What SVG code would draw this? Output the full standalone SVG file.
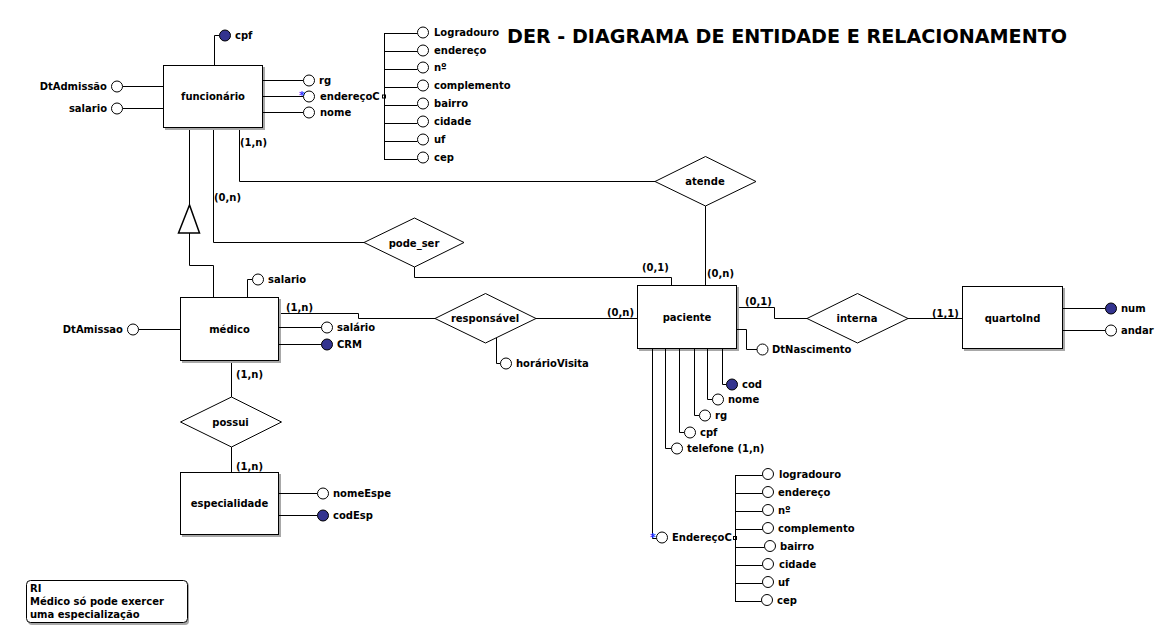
<svg xmlns="http://www.w3.org/2000/svg" width="1164" height="632" viewBox="0 0 1164 632">
<style>
text{font-family:"DejaVu Sans","Verdana",sans-serif;font-weight:bold;font-size:10px;fill:#000}
.title{font-size:20px}
.ctr{text-anchor:middle}
.end{text-anchor:end}
.ent{fill:#fff;stroke:#000;stroke-width:1}
.sh{fill:#a8a8a8;stroke:none}
.rel{fill:#fff;stroke:#000;stroke-width:1}
.ln{fill:none;stroke:#000;stroke-width:1}
.at{fill:#fff;stroke:#000;stroke-width:1}
.pk{fill:#33338f;stroke:#000;stroke-width:1}
.star{fill:#3030ff;font-size:11px}
.sq{fill:#fff;stroke:#000;stroke-width:1}
</style>
<rect width="1164" height="632" fill="#fff"/>
<text class="title" x="507" y="43" textLength="560" lengthAdjust="spacingAndGlyphs">DER - DIAGRAMA DE ENTIDADE E RELACIONAMENTO</text>

<g id="connectors">
<path class="ln" d="M239.5,128 V181.5 H655"/>
<path class="ln" d="M213.5,128 V242.5 H364"/>
<path class="ln" d="M414.5,267 V277.5 H671.5 V285"/>
<path class="ln" d="M705.5,206 V285"/>
<path class="ln" d="M189.5,128 V205"/>
<path class="ln" d="M189.5,233 V265.5 H213.5 V297"/>
<path class="ln" d="M279,313.5 H358.5 V318.5 H435"/>
<path class="ln" d="M536,318.5 H637"/>
<path class="ln" d="M737,307.5 H774.5 V318.5 H807"/>
<path class="ln" d="M908,318.5 H962"/>
<path class="ln" d="M231.5,361 V397"/>
<path class="ln" d="M231.5,447 V472"/>
<text x="240" y="146">(1,n)</text>
<text x="214" y="201">(0,n)</text>
<text x="642" y="271">(0,1)</text>
<text x="707" y="277">(0,n)</text>
<text x="286" y="311">(1,n)</text>
<text x="607" y="316">(0,n)</text>
<text x="745" y="305">(0,1)</text>
<text x="932" y="317">(1,1)</text>
<text x="236" y="378">(1,n)</text>
<text x="236" y="470">(1,n)</text>
</g>

<g id="specialization">
<polygon points="189.5,205 178.5,233 199.5,233" fill="#fff" stroke="#000" stroke-width="1.5"/>
</g>

<g id="funcionario">
<rect class="sh" x="165" y="67" width="100" height="63"/>
<rect class="ent" x="163.5" y="65.5" width="99" height="62"/>
<text class="ctr" x="213" y="100">funcionário</text>
<path class="ln" d="M214.5,65 V35.5 H219.5"/>
<circle class="pk" cx="225" cy="35.5" r="5.5"/>
<text x="235" y="39">cpf</text>
<path class="ln" d="M163,86.5 H122.5"/>
<circle class="at" cx="117" cy="86.5" r="5.5"/>
<text class="end" x="107" y="90">DtAdmissão</text>
<path class="ln" d="M163,108.5 H122.5"/>
<circle class="at" cx="117" cy="108.5" r="5.5"/>
<text class="end" x="107" y="112">salario</text>
<path class="ln" d="M263,80.5 H303.5"/>
<circle class="at" cx="309" cy="80.5" r="5.5"/>
<text x="319" y="84">rg</text>
<path class="ln" d="M263,96.5 H303.5"/>
<circle class="at" cx="309" cy="96.5" r="5.5"/>
<text class="star" x="299" y="99">*</text>
<text x="320" y="100">endereçoC</text>
<rect class="sq" x="382.5" y="95" width="3" height="3"/>
<path class="ln" d="M263,112.5 H303.5"/>
<circle class="at" cx="309" cy="112.5" r="5.5"/>
<text x="320" y="116">nome</text>
<path class="ln" d="M384.5,33 V160 M384.5,33.5 H417.5 M384.5,51.5 H417.5 M384.5,69.5 H417.5 M384.5,87.5 H417.5 M384.5,105.5 H417.5 M384.5,123.5 H417.5 M384.5,141.5 H417.5 M384.5,159.5 H417.5"/>
<circle class="at" cx="423" cy="32.5" r="5.5"/>
<circle class="at" cx="423" cy="50.5" r="5.5"/>
<circle class="at" cx="423" cy="67.5" r="5.5"/>
<circle class="at" cx="423" cy="85.5" r="5.5"/>
<circle class="at" cx="423" cy="103.5" r="5.5"/>
<circle class="at" cx="423" cy="121.5" r="5.5"/>
<circle class="at" cx="423" cy="139.5" r="5.5"/>
<circle class="at" cx="423" cy="157.5" r="5.5"/>
<text x="434" y="36">Logradouro</text>
<text x="434" y="54">endereço</text>
<text x="434" y="71">nº</text>
<text x="434" y="89">complemento</text>
<text x="434" y="107">bairro</text>
<text x="434" y="125">cidade</text>
<text x="434" y="143">uf</text>
<text x="434" y="161">cep</text>
</g>

<g id="atende">
<polygon class="rel" points="655,181.5 705.5,156.5 756,181.5 705.5,206"/>
<text class="ctr" x="705" y="185">atende</text>
</g>

<g id="pode_ser">
<polygon class="rel" points="364,242.5 414.5,218 464,242.5 414.5,267"/>
<text class="ctr" x="414" y="247">pode_ser</text>
</g>

<g id="medico">
<rect class="sh" x="182" y="299" width="99" height="64"/>
<rect class="ent" x="180.5" y="297.5" width="98" height="63"/>
<text class="ctr" x="229.5" y="333">médico</text>
<path class="ln" d="M247.5,297 V279.5 H252.5"/>
<circle class="at" cx="258" cy="279.5" r="5.5"/>
<text x="268" y="283">salario</text>
<path class="ln" d="M279,327.5 H321.5"/>
<circle class="at" cx="327" cy="327.5" r="5.5"/>
<text x="337" y="331">salário</text>
<path class="ln" d="M279,344.5 H321.5"/>
<circle class="pk" cx="327" cy="344.5" r="5.5"/>
<text x="337" y="348">CRM</text>
<path class="ln" d="M180,329.5 H138.5"/>
<circle class="at" cx="133" cy="329.5" r="5.5"/>
<text class="end" x="123" y="333">DtAmissao</text>
</g>

<g id="responsavel">
<polygon class="rel" points="435,318.5 485.5,293.5 536,318.5 485.5,343"/>
<text class="ctr" x="485" y="322">responsável</text>
<path class="ln" d="M496.5,338 V363.5 H500.5"/>
<circle class="at" cx="506" cy="363.5" r="5.5"/>
<text x="516" y="367">horárioVisita</text>
</g>

<g id="paciente">
<rect class="sh" x="639" y="287" width="100" height="64"/>
<rect class="ent" x="637.5" y="285.5" width="99" height="63"/>
<text class="ctr" x="687" y="321">paciente</text>
<path class="ln" d="M737,329.5 H746.5 V349.5 H757"/>
<circle class="at" cx="762.5" cy="349.5" r="5.5"/>
<text x="772" y="353">DtNascimento</text>
<path class="ln" d="M722.5,349 V384.5 H726.5"/>
<circle class="pk" cx="732" cy="384.5" r="5.5"/>
<text x="742" y="388">cod</text>
<path class="ln" d="M707.5,349 V399.5 H712.5"/>
<circle class="at" cx="718" cy="399.5" r="5.5"/>
<text x="728" y="403">nome</text>
<path class="ln" d="M694.5,349 V415.5 H699.5"/>
<circle class="at" cx="705" cy="415.5" r="5.5"/>
<text x="715" y="419">rg</text>
<path class="ln" d="M679.5,349 V432.5 H684.5"/>
<circle class="at" cx="690" cy="432.5" r="5.5"/>
<text x="700" y="436">cpf</text>
<path class="ln" d="M665.5,349 V448.5 H671.5"/>
<circle class="at" cx="677" cy="448.5" r="5.5"/>
<text x="687" y="452">telefone (1,n)</text>
<path class="ln" d="M652.5,349 V538.5 H656.5"/>
<circle class="at" cx="662" cy="537.5" r="5.5"/>
<text class="star" x="650" y="541">*</text>
<text x="672" y="541">EndereçoC</text>
<rect class="sq" x="733.5" y="536.5" width="3" height="3"/>
<path class="ln" d="M735.5,475 V602 M735.5,475.5 H762.5 M735.5,493.5 H762.5 M735.5,511.5 H762.5 M735.5,529.5 H762.5 M735.5,547.5 H764.5 M735.5,565.5 H762.5 M735.5,583.5 H762.5 M735.5,601.5 H761.5"/>
<circle class="at" cx="768" cy="474" r="5.5"/>
<circle class="at" cx="768" cy="492" r="5.5"/>
<circle class="at" cx="768" cy="510" r="5.5"/>
<circle class="at" cx="768" cy="528" r="5.5"/>
<circle class="at" cx="770" cy="546" r="5.5"/>
<circle class="at" cx="768" cy="564" r="5.5"/>
<circle class="at" cx="768" cy="582" r="5.5"/>
<circle class="at" cx="767" cy="600" r="5.5"/>
<text x="779" y="478">logradouro</text>
<text x="778" y="496">endereço</text>
<text x="778" y="514">nº</text>
<text x="778" y="532">complemento</text>
<text x="780" y="550">bairro</text>
<text x="779" y="568">cidade</text>
<text x="778" y="586">uf</text>
<text x="777" y="604">cep</text>
</g>

<g id="interna">
<polygon class="rel" points="807,318.5 857.5,293.5 908,318.5 857.5,343"/>
<text class="ctr" x="857" y="322">interna</text>
</g>

<g id="quartoInd">
<rect class="sh" x="964" y="288" width="101" height="63"/>
<rect class="ent" x="962.5" y="286.5" width="100" height="62"/>
<text class="ctr" x="1012.5" y="322">quartoInd</text>
<path class="ln" d="M1063,308.5 H1105.5"/>
<circle class="pk" cx="1111" cy="308.5" r="5.5"/>
<text x="1121" y="312">num</text>
<path class="ln" d="M1063,330.5 H1105.5"/>
<circle class="at" cx="1111" cy="330.5" r="5.5"/>
<text x="1121" y="334">andar</text>
</g>

<g id="possui">
<polygon class="rel" points="180.5,422 231.5,397 281.5,422 231.5,447"/>
<text class="ctr" x="230.5" y="426">possui</text>
</g>

<g id="especialidade">
<rect class="sh" x="182" y="474" width="99" height="63"/>
<rect class="ent" x="180.5" y="472.5" width="98" height="62"/>
<text class="ctr" x="229.5" y="507">especialidade</text>
<path class="ln" d="M279,493.5 H317.5"/>
<circle class="at" cx="323" cy="493.5" r="5.5"/>
<text x="333" y="497">nomeEspe</text>
<path class="ln" d="M279,515.5 H317.5"/>
<circle class="pk" cx="323" cy="515.5" r="5.5"/>
<text x="333" y="519">codEsp</text>
</g>

<g id="note">
<rect x="28" y="582" width="161" height="43" rx="4" class="sh"/>
<rect x="26.5" y="580.5" width="161" height="42" rx="4" fill="#fff" stroke="#000"/>
<text x="30" y="592">RI</text>
<text x="30" y="605">Médico só pode exercer</text>
<text x="30" y="618">uma especialização</text>
</g>
</svg>
